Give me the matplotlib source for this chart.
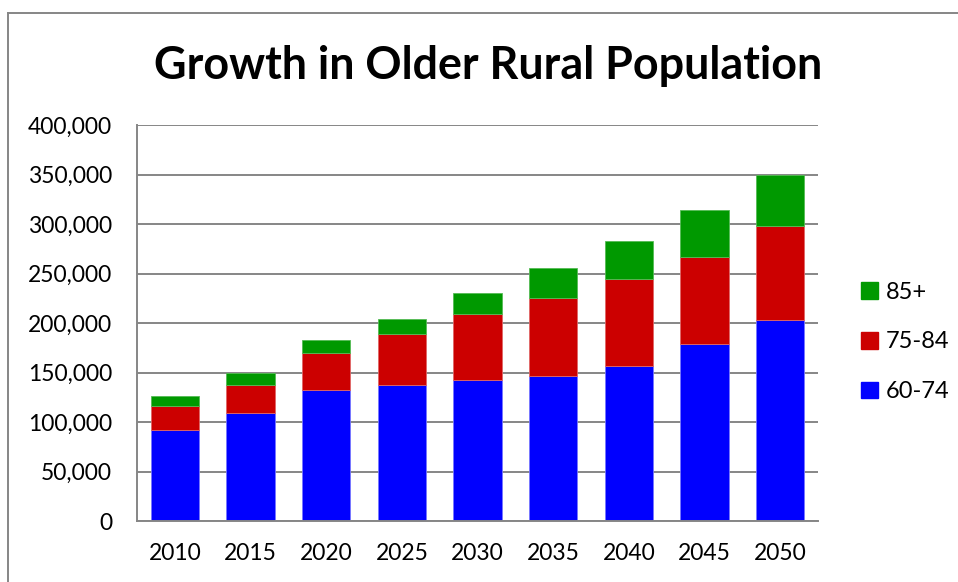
import matplotlib.pyplot as plt
import numpy as np
from matplotlib.lines import Line2D
from matplotlib.patches import Patch

years = ['2010', '2015', '2020', '2025', '2030', '2035', '2040', '2045', '2050']
age_60_74 = [92000, 109000, 132000, 137000, 142000, 146000, 157000, 179000, 203000]
age_75_84 = [24500, 28000, 37500, 51500, 67000, 79500, 87000, 88000, 94500]
age_85_up = [10000, 12000, 13000, 15500, 21000, 30000, 38500, 47000, 52000]

series_names = ['60-74', '75-84', '85+']
colors = ['#0000FF', '#CC0000', '#009900']
edges = ['#7777ff', '#e06666', '#55bb55']

plt.rcParams['font.family'] = ['Lato', 'DejaVu Sans']

fig = plt.figure(figsize=(9.58, 5.82), dpi=100)
ax = fig.add_axes([137 / 958, 1 - 521 / 582, (818 - 137) / 958, (521 - 125) / 582])

x = np.arange(len(years))
bottom = np.zeros(len(years))
for vals, name, c, ec in zip([age_60_74, age_75_84, age_85_up], series_names, colors, edges):
    vals = np.array(vals)
    ax.bar(x, vals, width=0.64, bottom=bottom, color=c, edgecolor=ec,
           linewidth=0.6, label=name, zorder=3)
    bottom += vals

ax.set_xlim(-0.5, len(years) - 0.5)
ax.set_ylim(0, 400000)
ax.set_yticks(np.arange(0, 400001, 50000))
ax.set_yticklabels([f'{v:,}' for v in range(0, 400001, 50000)])
ax.set_xticks(x)
ax.set_xticklabels(years)
ax.tick_params(axis='both', length=0, labelsize=16.5)
ax.tick_params(axis='y', pad=18)
ax.tick_params(axis='x', pad=16)

ax.grid(axis='y', color='#868686', linewidth=1.4, zorder=0)
for s in ['top', 'right']:
    ax.spines[s].set_visible(False)
for s in ['left', 'bottom']:
    ax.spines[s].set_color('#868686')
    ax.spines[s].set_linewidth(1.4)
    ax.spines[s].set_zorder(4)

fig.text(488 / 958, 1 - 66 / 582, 'Growth in Older Rural Population',
         ha='center', va='center', fontsize=32.3, fontweight='bold')

handles = [Patch(color=colors[i], label=series_names[i]) for i in [2, 1, 0]]
fig.legend(handles=handles, loc='center left', bbox_to_anchor=(840 / 958, 1 - 342 / 582),
           frameon=False, fontsize=17, handlelength=0.7, handleheight=0.7,
           handletextpad=0.35, labelspacing=1.22)

# outer chart border
fig.add_artist(Line2D([8 / 958, 8 / 958], [0, 1 - 13 / 582], color='#868686', linewidth=1.4))
fig.add_artist(Line2D([8 / 958, 1], [1 - 13 / 582, 1 - 13 / 582], color='#868686', linewidth=1.4))

fig.savefig('out.png', dpi=100)
